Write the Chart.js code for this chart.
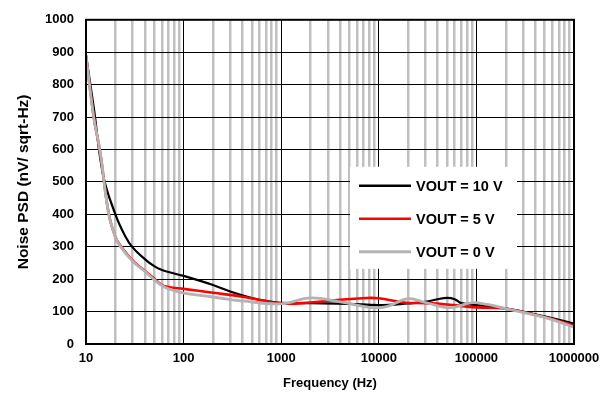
<!DOCTYPE html>
<html>
<head>
<meta charset="utf-8">
<script src="https://cdn.jsdelivr.net/npm/chart.js@4.4.1/dist/chart.umd.min.js"></script>
<style>
  html, body { margin: 0; padding: 0; background: #fff; }
  #wrap { width: 616px; height: 401px; }
</style>
</head>
<body>
<div id="wrap"><canvas id="psd"></canvas></div>
<script>
// Noise PSD vs frequency, three output voltages
const seriesLabels = ['VOUT = 10 V', 'VOUT = 5 V', 'VOUT = 0 V'];
const seriesColors = ['#000000', '#ff0000', '#b3b3b3'];

const freq10 = [10, 12, 15, 20, 25, 30, 40, 50, 60, 70, 100, 200, 300, 500, 700, 1000, 2000, 5000, 10000, 20000, 30000, 40000, 50000, 60000, 70000, 100000, 200000, 500000, 1000000];
const psd10  = [890, 730, 520, 400, 335, 298, 262, 240, 228, 222, 210, 182, 162, 142, 133, 127, 126, 124, 120, 125, 130, 138, 142, 138, 126, 120, 110, 85, 63];

const freq5 = [10, 12, 14, 17, 20, 22, 30, 40, 50, 60, 70, 100, 200, 400, 1000, 2000, 4000, 7500, 10000, 18000, 30000, 50000, 100000, 200000, 500000, 1000000];
const psd5  = [890, 700, 590, 405, 330, 308, 258, 226, 202, 182, 176, 170, 158, 146, 125, 128, 136, 142, 141, 128, 126, 122, 113, 109, 83, 57];

const freq0 = [10, 12, 14, 17, 20, 22, 30, 40, 50, 60, 70, 100, 200, 400, 1000, 2000, 4000, 8700, 12000, 20000, 30000, 54000, 88000, 130000, 200000, 500000, 1000000];
const psd0  = [890, 700, 590, 405, 330, 305, 255, 224, 198, 180, 170, 157, 145, 133, 124, 142, 130, 112, 115, 140, 128, 112, 127, 122, 109, 82, 52];

const yTicks = [0, 100, 200, 300, 400, 500, 600, 700, 800, 900, 1000];

const toXY = (xs, ys) => xs.map((x, i) => ({ x: x, y: ys[i] }));

const FONT = "'Liberation Sans', Arial, sans-serif";
const isDecade = v => Math.abs(Math.log10(v) - Math.round(Math.log10(v))) < 1e-9;

// legend drawn inside the plot, white box over the grid
const insideLegend = {
  id: 'insideLegend',
  beforeDatasetsDraw(chart) {
    const ctx = chart.ctx;
    const a = chart.chartArea;
    const bx = a.left + 264, by = a.top + 147, bw = 167, bh = 102;
    ctx.save();
    ctx.fillStyle = '#ffffff';
    ctx.fillRect(bx, by, bw, bh);
    ctx.font = 'bold 14.5px ' + FONT;
    ctx.textBaseline = 'middle';
    seriesLabels.forEach((lab, i) => {
      const ly = by + 19 + i * 33;
      ctx.strokeStyle = seriesColors[i];
      ctx.lineWidth = i === 2 ? 3 : 2.4;
      ctx.beginPath();
      ctx.moveTo(bx + 9, ly);
      ctx.lineTo(bx + 61, ly);
      ctx.stroke();
      ctx.fillStyle = '#000';
      ctx.fillText(lab, bx + 66, ly + 1);
    });
    ctx.restore();
  }
};

new Chart(document.getElementById('psd'), {
  type: 'line',
  data: {
    datasets: [
      { label: seriesLabels[0], data: toXY(freq10, psd10), borderColor: seriesColors[0], borderWidth: 2.2, order: 3 },
      { label: seriesLabels[1], data: toXY(freq5, psd5), borderColor: seriesColors[1], borderWidth: 2.6, order: 2 },
      { label: seriesLabels[2], data: toXY(freq0, psd0), borderColor: seriesColors[2], borderWidth: 2.8, order: 1 }
    ]
  },
  options: {
    responsive: true,
    maintainAspectRatio: false,
    animation: false,
    events: [],
    layout: { padding: { top: 13, right: 42, left: 0, bottom: 0 } },
    elements: {
      point: { radius: 0 },
      line: { tension: 0.4, fill: false }
    },
    plugins: { legend: { display: false }, tooltip: { enabled: false } },
    scales: {
      x: {
        type: 'logarithmic',
        min: 10,
        max: 1000000,
        afterBuildTicks(scale) {
          const t = [];
          for (let e = 1; e <= 6; e++) {
            for (let m = 1; m <= 9; m++) {
              const v = m * Math.pow(10, e);
              if (v <= 1000000) t.push({ value: v });
            }
          }
          scale.ticks = t;
        },
        afterFit(scale) { scale.height = 57; },
        border: { display: true, color: '#000', width: 2 },
        grid: {
          color: c => (c.tick && isDecade(c.tick.value)) ? '#000' : '#c0c0c0',
          lineWidth: c => (c.tick && isDecade(c.tick.value)) ? 1 : 2.5,
          drawTicks: false
        },
        ticks: {
          autoSkip: false,
          maxRotation: 0,
          padding: 7,
          color: '#000',
          font: { family: FONT, size: 13, weight: 'bold' },
          callback: v => isDecade(v) ? String(v) : ''
        },
        title: {
          display: true,
          text: 'Frequency (Hz)',
          color: '#000',
          font: { family: FONT, size: 13, weight: 'bold' },
          padding: { top: 0, bottom: 10 }
        }
      },
      y: {
        min: 0,
        max: 1000,
        afterBuildTicks(scale) { scale.ticks = yTicks.map(v => ({ value: v })); },
        afterFit(scale) { scale.width = 86; },
        border: { display: true, color: '#000', width: 2 },
        grid: { color: '#000', lineWidth: 1, drawTicks: false },
        ticks: {
          padding: 12,
          color: '#000',
          font: { family: FONT, size: 13, weight: 'bold' },
          callback: v => String(v)
        },
        title: {
          display: true,
          text: 'Noise PSD (nV/ sqrt-Hz)',
          color: '#000',
          font: { family: FONT, size: 15.5, weight: 'bold' },
          padding: { top: 14, bottom: 0 }
        }
      }
    }
  },
  plugins: [insideLegend, {
    id: 'frame',
    afterDatasetsDraw(chart) {
      const a = chart.chartArea, ctx = chart.ctx;
      ctx.save();
      ctx.strokeStyle = '#000';
      ctx.lineWidth = 2;
      ctx.strokeRect(a.left, a.top, a.right - a.left, a.bottom - a.top);
      ctx.restore();
    }
  }]
});
</script>
</body>
</html>
